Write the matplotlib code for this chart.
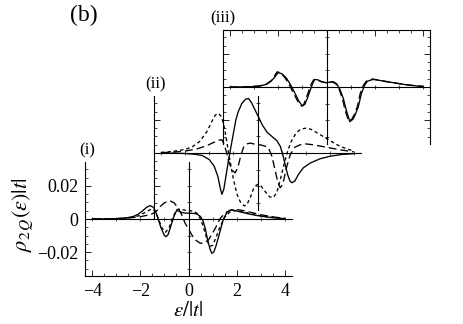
import matplotlib
matplotlib.use('Agg')
import matplotlib.pyplot as plt
from matplotlib.ticker import MultipleLocator, FixedLocator, FixedFormatter, NullFormatter
import numpy as np

plt.rcParams['font.family'] = ['Liberation Serif', 'DejaVu Serif']
plt.rcParams['mathtext.fontset'] = 'stix'

# ---------------- data (y values in units of 1e-3) ----------------
# panel (i)
x1_solid = [-4.0,-3.5,-3.0,-2.6,-2.3,-2.1,-1.9,-1.75,-1.6,-1.45,-1.3,-1.15,-1.0,-0.93,-0.85,-0.75,-0.62,-0.5,-0.4,-0.3,-0.15,0.0,0.2,0.35,0.5,0.6,0.7,0.8,0.9,0.97,1.05,1.15,1.3,1.45,1.6,1.75,1.9,2.1,2.4,2.8,3.2,3.6,4.0]
y1_solid = [0,0.05,0.2,0.6,1.5,2.8,5,7,8.1,7,2,-5,-10,-10.7,-9.5,-5,1,5,4.8,4,3.6,3.5,3.4,3.0,1.5,-1,-6,-13,-18.5,-20.8,-20,-16,-8,0,4,5.5,5.3,4.5,3.4,2.2,1.3,0.6,0.2]
x1_long = [-4.0,-3.5,-3.0,-2.5,-2.0,-1.7,-1.46,-1.3,-1.18,-1.0,-0.85,-0.76,-0.6,-0.42,-0.28,-0.14,0.0,0.14,0.3,0.49,0.65,0.83,1.0,1.11,1.22,1.32,1.45,1.6,1.78,1.94,2.2,2.6,3.0,3.5,4.0]
y1_long = [0,0.05,0.2,0.6,1.4,2.3,3.4,5.2,7.5,9.8,10.7,10.9,9.8,6.5,2.5,-2.6,-6,-9.7,-12.8,-14.7,-14.5,-12.7,-8.5,-5.7,-2.5,0.4,2.5,4.4,5.4,5.9,5.3,4,2.6,1.3,0.4]
x1_short = [-4.0,-3.5,-3.0,-2.5,-2.1,-1.8,-1.55,-1.4,-1.25,-1.1,-0.95,-0.8,-0.65,-0.5,-0.4,-0.2,0.0,0.2,0.35,0.5,0.6,0.7,0.8,0.9,1.0,1.15,1.3,1.5,1.7,1.9,2.2,2.6,3.0,3.5,4.0]
y1_short = [0,0.05,0.2,0.6,1.8,4,6,5,0,-5.5,-8,-5,1,5.5,6,5.5,5,4.8,3.5,0,-4,-9,-14,-16.5,-16,-11,-5,1,4,5,4.5,3.2,2,1,0.3]

# panel (ii)
x2_solid = [-4.0,-3.5,-3.0,-2.6,-2.3,-2.0,-1.8,-1.65,-1.55,-1.48,-1.4,-1.3,-1.2,-1.1,-1.0,-0.9,-0.8,-0.65,-0.5,-0.375,-0.25,-0.1,0.0,0.2,0.4,0.6,0.8,0.95,1.05,1.15,1.25,1.35,1.43,1.55,1.7,1.9,2.2,2.6,3.0,3.5,4.0]
y2_solid = [0,-0.1,-0.3,-0.8,-1.5,-4,-8,-14,-21,-25,-22,-13,-4,4,12,20,25,30,32.5,33,30.5,26,23,17,12.5,10,7.5,4,-1,-7,-13,-17,-18,-17,-13,-9,-6,-3.5,-2,-0.9,-0.4]
x2_short = [-4.0,-3.5,-3.0,-2.7,-2.4,-2.1,-1.9,-1.75,-1.62,-1.5,-1.4,-1.3,-1.2,-1.1,-1.0,-0.85,-0.7,-0.55,-0.45,-0.3,-0.15,0.0,0.15,0.3,0.5,0.65,0.8,0.95,1.1,1.25,1.4,1.6,1.8,2.0,2.2,2.5,2.9,3.3,3.7,4.0]
y2_short = [0.3,1,2.2,3.8,7,13,19,23,24,22,17,9,0,-8,-16,-25,-30,-32,-31.5,-27,-21,-19,-20,-23,-26.5,-27,-24,-16,-7,1,7,12,14.5,15,14.5,12,8.5,5,2.5,1.2]
x2_long = [-4.0,-3.5,-3.0,-2.5,-2.1,-1.8,-1.6,-1.48,-1.38,-1.28,-1.2,-1.05,-0.93,-0.82,-0.7,-0.58,-0.45,-0.3,-0.1,0.1,0.3,0.46,0.6,0.74,0.85,0.94,1.05,1.2,1.36,1.55,1.78,2.0,2.3,2.9,3.4,3.86,4.0]
y2_long = [0.2,0.5,1.2,2.5,4.5,6.5,7.8,8,5,0,-5,-10.5,-12,-9,-2,3.5,5.5,6,5.3,5,4.2,3,-2,-11,-18,-21,-19,-9,-1,3.5,5,5.5,5,3.4,2,1,0.7]

# panel (iii)
x3_solid = [-4.0,-3.5,-3.2,-2.8,-2.5,-2.3,-2.15,-2.01,-1.85,-1.67,-1.5,-1.32,-1.15,-1.0,-0.9,-0.8,-0.69,-0.58,-0.49,-0.35,-0.2,0.0,0.15,0.28,0.42,0.56,0.7,0.83,0.97,1.1,1.2,1.32,1.45,1.58,1.7,1.94,2.2,2.5,2.78,3.2,3.75,4.0]
y3_solid = [0,0.05,0.15,0.5,1.6,3.5,6,8.7,8,5.5,1.5,-3.5,-8.5,-11.5,-10.5,-7,-2.5,2,4.6,4.3,3.2,2.6,3.0,3.2,2,-1.5,-7,-14.5,-21,-19.5,-16.5,-12,-4,1,3.5,4.6,4,3.2,2.6,1.6,0.6,0.4]
x3_long = [-4.0,-3.5,-3.2,-2.8,-2.5,-2.3,-2.17,-2.05,-1.9,-1.72,-1.55,-1.38,-1.2,-1.05,-0.95,-0.85,-0.74,-0.63,-0.53,-0.38,-0.2,0.0,0.15,0.26,0.4,0.53,0.66,0.78,0.92,1.05,1.16,1.28,1.4,1.53,1.66,1.9,2.2,2.5,2.78,3.2,3.75,4.0]
y3_long = [0,0.05,0.2,0.6,1.8,3.8,6.5,9.2,8.5,5.5,1.5,-3.5,-8.5,-11.5,-10.7,-7,-2.5,2,4.4,4.2,3.1,2.5,2.9,3.0,1.8,-1.5,-7,-14.5,-20.5,-19.5,-16.5,-12,-4,1,3.6,4.8,4.2,3.3,2.6,1.6,0.6,0.4]

SCALE = 1e-3
panel_labels = ['(i)', '(ii)', '(iii)']
xtick_vals = [-4, -2, 0, 2, 4]
xtick_text = ['\u22124', '\u22122', '0', '2', '4']
ytick_vals = [-0.02, 0, 0.02]
ytick_text = ['\u22120.02', '0', '0.02']

# ---------------- layout ----------------
W, H = 463, 324
fig = plt.figure(figsize=(W / 100, H / 100), dpi=100)
XLIM = (-4.3, 4.3)
YLIM = (-0.0345, 0.0345)
LW = 0.95
STY = {'solid': '-', 'long': (0, (6, 3)), 'short': (0, (2.6, 2.2))}


def rect(left, top, right, bottom):
    return [left / W, 1 - bottom / H, (right - left) / W, (bottom - top) / H]


def make_panel(r, spines_on):
    ax = fig.add_axes(r)
    ax.patch.set_visible(False)
    ax.set_xlim(*XLIM)
    ax.set_ylim(*YLIM)
    for s in ['left', 'right', 'top', 'bottom']:
        ax.spines[s].set_visible(s in spines_on)
        ax.spines[s].set_linewidth(0.8)
    ax.xaxis.set_major_locator(FixedLocator(xtick_vals))
    ax.xaxis.set_minor_locator(MultipleLocator(0.5))
    ax.yaxis.set_major_locator(FixedLocator(ytick_vals))
    ax.yaxis.set_minor_locator(MultipleLocator(0.005))
    ax.tick_params(which='major', direction='in', length=4, width=0.6,
                   top='top' in spines_on, bottom='bottom' in spines_on,
                   left='left' in spines_on, right='right' in spines_on,
                   labelbottom=False, labelleft=False)
    ax.tick_params(which='minor', direction='in', length=2, width=0.5,
                   top='top' in spines_on, bottom='bottom' in spines_on,
                   left='left' in spines_on, right='right' in spines_on)
    # axes through the origin
    az = fig.add_axes(r)
    az.patch.set_visible(False)
    az.set_xlim(*XLIM)
    az.set_ylim(*YLIM)
    az.spines['top'].set_visible(False)
    az.spines['right'].set_visible(False)
    az.spines['left'].set_position(('data', 0))
    az.spines['bottom'].set_position(('data', 0))
    az.spines['left'].set_linewidth(0.8)
    az.spines['bottom'].set_linewidth(0.8)
    az.xaxis.set_major_locator(MultipleLocator(1))
    az.yaxis.set_major_locator(MultipleLocator(0.01))
    az.tick_params(which='major', direction='inout', length=3, width=0.5,
                   labelbottom=False, labelleft=False)
    return ax


dx, dy = 69, 66
base = (85, 162, 292, 276)
ax3 = make_panel(rect(base[0] + 2 * dx, base[1] - 2 * dy, base[2] + 2 * dx, base[3] - 2 * dy),
                 ['left', 'right', 'top'])
ax2 = make_panel(rect(base[0] + dx, base[1] - dy, base[2] + dx, base[3] - dy), ['left'])
ax2.spines['left'].set_bounds(-0.0395, 0.0345)
ax1 = make_panel(rect(*base), ['left', 'bottom'])

ax1.tick_params(labelbottom=True, labelleft=True, labelsize=13, pad=5)
ax1.set_xticklabels(xtick_text)
ax1.set_yticklabels(ytick_text)

def plot(ax, x, y, kind):
    ax.plot(x, np.array(y) * SCALE, color='black', lw=LW, ls=STY[kind])

plot(ax1, x1_short, y1_short, 'short')
plot(ax1, x1_long, y1_long, 'long')
plot(ax1, x1_solid, y1_solid, 'solid')
plot(ax2, x2_short, y2_short, 'short')
plot(ax2, x2_long, y2_long, 'long')
plot(ax2, x2_solid, y2_solid, 'solid')
plot(ax3, x3_long, y3_long, 'long')
plot(ax3, x3_solid, y3_solid, 'solid')

# texts
fig.text(84 / W, 1 - 15 / H, '(b)', fontsize=17, ha='center', va='center')
fig.text(87 / W, 1 - 150 / H, panel_labels[0], fontsize=12, ha='center', va='center')
fig.text(155 / W, 1 - 84 / H, panel_labels[1], fontsize=12, ha='center', va='center')
fig.text(223 / W, 1 - 18 / H, panel_labels[2], fontsize=12, ha='center', va='center')
fig.text(188 / W, 1 - 312 / H, r'$\epsilon/|t|$', fontsize=15, ha='center', va='center')
fig.text(23 / W, 1 - 215 / H, r'$\rho_{2\,Q}(\epsilon)|t|$', fontsize=16,
         ha='center', va='center', rotation=90)

fig.savefig('out.png', dpi=100)
